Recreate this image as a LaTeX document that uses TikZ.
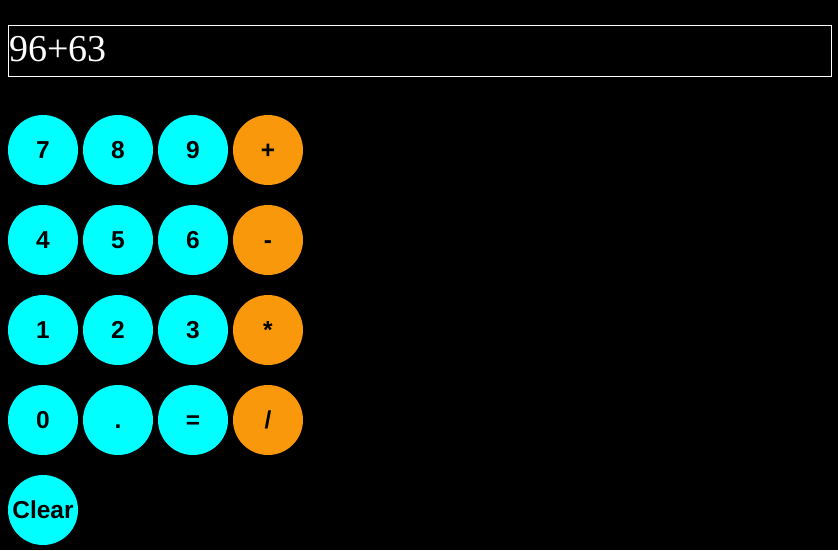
\documentclass[tikz,border=0pt]{standalone}
\usepackage{fontspec}
\setmainfont{Liberation Serif}
\setsansfont{Liberation Sans}
\definecolor{keycyan}{RGB}{0,255,255}
\definecolor{keyorange}{RGB}{248,152,10}
\tikzset{
  key/.style={circle, fill=keycyan, minimum size=70pt, inner sep=0pt, text height=17.5pt, text depth=0pt, font=\sffamily\bfseries\fontsize{24.5pt}{24.5pt}\selectfont, text=black},
  opkey/.style={key, fill=keyorange},
  display/.style={draw=white, line width=1pt, minimum width=823pt, minimum height=51pt, inner sep=0pt, anchor=north west}
}
\begin{document}
\begin{tikzpicture}[x=1pt,y=-1pt]
\fill[black] (0,0) rectangle (838,550);
\useasboundingbox (0,0) rectangle (838,550);
\node[display] (disp) at (8,25) {};
\node[anchor=base west, text=white, inner sep=0pt, font=\rmfamily\fontsize{38pt}{38pt}\selectfont] (val) at (9,61) {96+63};
\node[key] (k7) at (43,150) {7};
\node[key] (k8) at (118,150) {8};
\node[key] (k9) at (193,150) {9};
\node[opkey] (kplus) at (268,150) {+};
\node[key] (k4) at (43,240) {4};
\node[key] (k5) at (118,240) {5};
\node[key] (k6) at (193,240) {6};
\node[opkey] (kminus) at (268,240) {-};
\node[key] (k1) at (43,330) {1};
\node[key] (k2) at (118,330) {2};
\node[key] (k3) at (193,330) {3};
\node[opkey] (ktimes) at (268,330) {*};
\node[key] (k0) at (43,420) {0};
\node[key] (kdot) at (118,420) {.};
\node[key] (keq) at (193,420) {=};
\node[opkey] (kdiv) at (268,420) {/};
\node[key] (kclear) at (43,510) {Clear};
\end{tikzpicture}
\end{document}
